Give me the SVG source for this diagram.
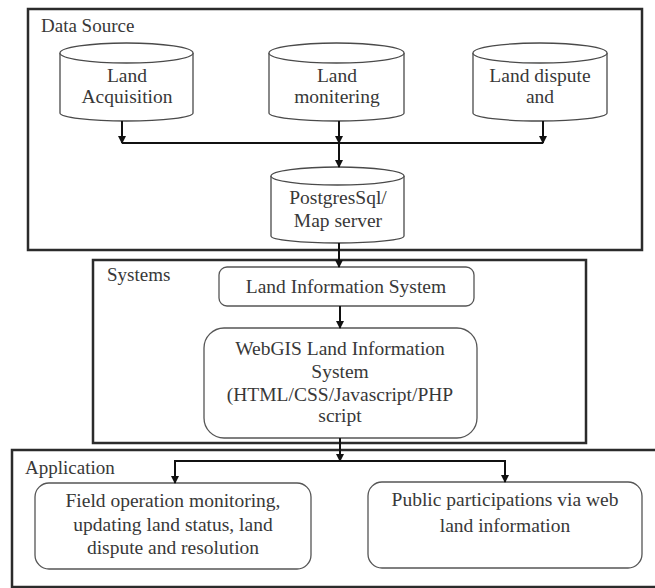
<svg xmlns="http://www.w3.org/2000/svg" width="655" height="588" viewBox="0 0 655 588">
<style>
.frame{fill:none;stroke:#2b2b2b;stroke-width:2.5}
.cyl{fill:#fff;stroke:#4a4a4a;stroke-width:1.3}
.box{fill:#fff;stroke:#555;stroke-width:1.3}
.t{font-family:"Liberation Serif","Times New Roman",serif;font-size:19.5px;fill:#383838;text-anchor:middle}
.lbl{font-family:"Liberation Serif","Times New Roman",serif;font-size:19px;fill:#383838}
.c{fill:none;stroke:#111;stroke-width:2}
</style>
<defs>
<marker id="ah" markerWidth="8" markerHeight="8" refX="7" refY="4" orient="auto" markerUnits="userSpaceOnUse">
<path d="M0,0 L8,4 L0,8 Z" fill="#111"/>
</marker>
</defs>
<rect width="655" height="588" fill="#fff"/>

<g id="data-source">
<rect class="frame" x="28" y="9" width="614" height="241"/>
<text class="lbl" x="41" y="32">Data Source</text>
</g>
<g id="systems">
<rect class="frame" x="93" y="260" width="493" height="183"/>
<text class="lbl" x="107" y="281">Systems</text>
</g>
<g id="application">
<rect class="frame" x="12" y="450" width="650" height="137"/>
<text class="lbl" x="25" y="474">Application</text>
</g>

<g id="land-acquisition">
<path class="cyl" d="M60,53 A66.5,10 0 0 1 193,53 L193,113 A66.5,8 0 0 1 60,113 Z"/>
<path class="cyl" d="M60,53 A66.5,10 0 0 0 193,53"/>
<text class="t" x="127" y="82">Land</text>
<text class="t" x="127" y="103">Acquisition</text>
</g>
<g id="land-monitering">
<path class="cyl" d="M269,53 A67.5,10 0 0 1 404,53 L404,113 A67.5,8 0 0 1 269,113 Z"/>
<path class="cyl" d="M269,53 A67.5,10 0 0 0 404,53"/>
<text class="t" x="337" y="82">Land</text>
<text class="t" x="337" y="103">monitering</text>
</g>
<g id="land-dispute">
<path class="cyl" d="M473,53 A67,10 0 0 1 607,53 L607,113 A67,8 0 0 1 473,113 Z"/>
<path class="cyl" d="M473,53 A67,10 0 0 0 607,53"/>
<text class="t" x="540" y="82">Land dispute</text>
<text class="t" x="540" y="103">and</text>
</g>
<g id="postgres">
<path class="cyl" d="M271,176 A66.5,9 0 0 1 404,176 L404,236 A66.5,7 0 0 1 271,236 Z"/>
<path class="cyl" d="M271,176 A66.5,9 0 0 0 404,176"/>
<text class="t" x="338" y="204">PostgresSql/</text>
<text class="t" x="338" y="227">Map server</text>
</g>
<g id="land-info-system">
<rect class="box" x="219" y="267" width="255" height="39" rx="8"/>
<text class="t" x="346" y="293">Land Information System</text>
</g>
<g id="webgis">
<rect class="box" x="204" y="328" width="273" height="110" rx="20"/>
<text class="t" x="340" y="355">WebGIS Land Information</text>
<text class="t" x="340" y="378">System</text>
<text class="t" x="340" y="401">(HTML/CSS/Javascript/PHP</text>
<text class="t" x="340" y="422">script</text>
</g>
<g id="field-operation">
<rect class="box" x="35" y="483" width="276" height="86" rx="14"/>
<text class="t" x="173" y="507">Field operation monitoring,</text>
<text class="t" x="173" y="531">updating land status, land</text>
<text class="t" x="173" y="554">dispute and resolution</text>
</g>
<g id="public-participation">
<rect class="box" x="368" y="482" width="274" height="86" rx="14"/>
<text class="t" x="505" y="506">Public participations via web</text>
<text class="t" x="505" y="532">land information</text>
</g>

<g id="connectors">
<line class="c" x1="122" y1="143" x2="543" y2="143"/>
<line class="c" x1="122" y1="121" x2="122" y2="143" marker-end="url(#ah)"/>
<line class="c" x1="339" y1="121" x2="339" y2="143" marker-end="url(#ah)"/>
<line class="c" x1="543" y1="121" x2="543" y2="143" marker-end="url(#ah)"/>
<line class="c" x1="339" y1="143" x2="339" y2="167" marker-end="url(#ah)"/>
<line class="c" x1="339" y1="243" x2="339" y2="267" marker-end="url(#ah)"/>
<line class="c" x1="340" y1="306" x2="340" y2="328" marker-end="url(#ah)"/>
<line class="c" x1="340" y1="438" x2="340" y2="461" marker-end="url(#ah)"/>
<polyline class="c" points="175,483 175,461 505,461 505,482"/>
<line class="c" x1="175" y1="470" x2="175" y2="483" marker-end="url(#ah)"/>
<line class="c" x1="505" y1="470" x2="505" y2="482" marker-end="url(#ah)"/>
</g>
</svg>
